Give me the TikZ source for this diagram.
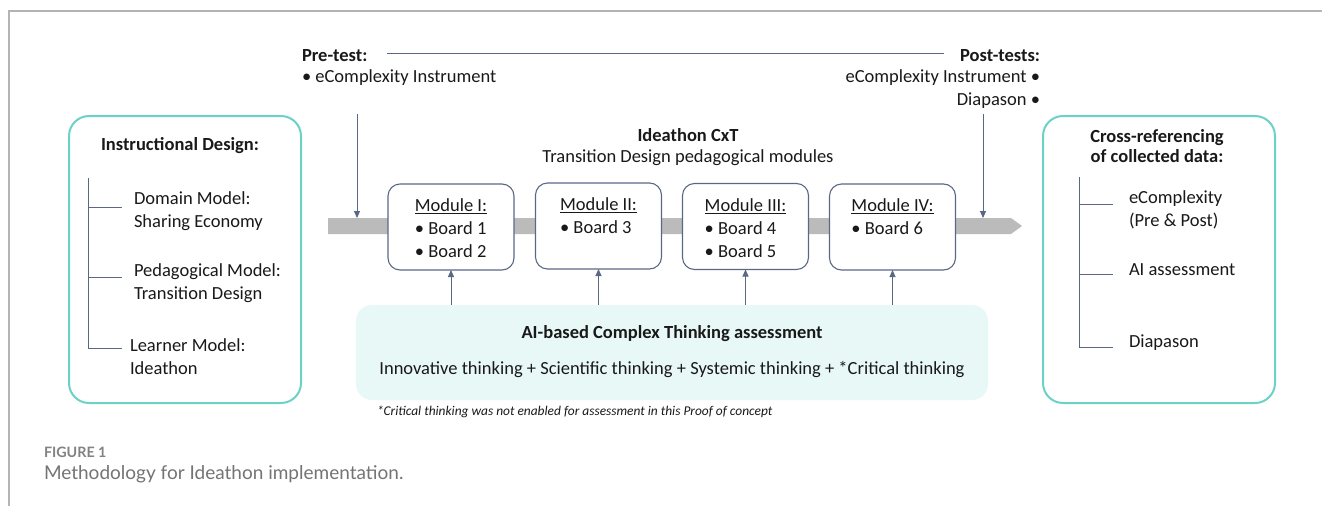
\documentclass[tikz,border=0pt]{standalone}
\usepackage{fontspec}
\setmainfont{Carlito}
\newfontfamily\capfont{Lato}
\usetikzlibrary{arrows.meta,calc}

\definecolor{framegray}{HTML}{B4B4B4}
\definecolor{boxteal}{HTML}{6CD2C8}
\definecolor{slateline}{HTML}{5A6886}
\definecolor{barray}{HTML}{BBBBBB}
\definecolor{aifill}{HTML}{E8F8F7}
\definecolor{captext}{HTML}{747474}

\begin{document}
\begin{tikzpicture}[x=1pt,y=-1pt,
  every node/.style={inner sep=0pt, outer sep=0pt, text=black!90},
  txt/.style={font=\fontsize{18.5}{23}\selectfont},
  bold/.style={font=\fontsize{18.5}{20}\selectfont\bfseries},
  tealbox/.style={draw=boxteal, line width=2pt, rounded corners=20pt, minimum width=232pt, minimum height=287pt},
  modbox/.style={draw=slateline, line width=1.1pt, fill=white, rounded corners=12pt, minimum width=126pt, minimum height=86pt},
  modtxt/.style={font=\fontsize{18.5}{23}\selectfont, align=left},
  treeline/.style={draw=slateline, line width=1pt},
  arr/.style={draw=slateline, line width=1pt, -{Triangle[length=7pt,width=6pt]}},
]
\useasboundingbox (0,0) rectangle (1322,506);
\fill[white] (0,0) rectangle (1322,506);

% outer frame
\draw[framegray, line width=1.6pt] (9,506) -- (9,11) -- (1322,11);

% ---- Instructional design panel
\node[tealbox] (inst) at (185,259.5) {};
\node[bold] (insttitle) at (180,146) {Instructional Design:};
\node[txt, align=left, anchor=west] (dom) at (134,211.5) {Domain Model:\\Sharing Economy};
\node[txt, align=left, anchor=west] (ped) at (134,283.5) {Pedagogical Model:\\Transition Design};
\node[txt, align=left, anchor=west] (lrn) at (130,357) {Learner Model:\\Ideathon};
\coordinate (itop) at (88,178);
\draw[treeline] (itop) -- (88,348) -- (122,348);
\draw[treeline] (88,207) -- (122,207);
\draw[treeline] (88,277) -- (122,277);

% ---- Cross-referencing panel
\node[tealbox] (cross) at (1159,259.5) {};
\node[bold, align=center] (crosstitle) at (1157,146) {Cross-referencing\\of collected data:};
\node[txt, align=left, anchor=west] (ecx) at (1129,209.5) {eComplexity\\(Pre \& Post)};
\node[txt, anchor=west] (aia) at (1129,270) {AI assessment};
\node[txt, anchor=west] (dia) at (1129,343) {Diapason};
\coordinate (ctop) at (1079,177);
\draw[treeline] (ctop) -- (1079,347) -- (1113,347);
\draw[treeline] (1079,204) -- (1113,204);
\draw[treeline] (1079,274) -- (1113,274);

% ---- tests
\node[bold, anchor=west] (pre) at (302,56) {Pre-test:};
\node[txt, anchor=west] (preitem) at (302,78) {• eComplexity Instrument};
\node[bold, anchor=east] (post) at (1040,56) {Post-tests:};
\node[txt, anchor=east] (postitem) at (1040,78) {eComplexity Instrument •};
\node[txt, anchor=east] (postdia) at (1040,101) {Diapason •};
\draw[slateline, line width=1pt] ([xshift=20pt]pre.east |- 0,53) -- ([xshift=-16pt]post.west |- 0,53);

% ---- process bar
\fill[barray] (328,218) -- (1011,218) -- (1022,226) -- (1011,234) -- (328,234) -- cycle;
\coordinate (barin) at (357,218);
\coordinate (barout) at (983,218);
\draw[arr] (357,114) -- (barin);
\draw[arr] (983,114) -- (barout);

\node[bold] (ideathon) at (688,135) {Ideathon CxT};
\node[txt] (tdmod) at (688,158) {Transition Design pedagogical modules};

% ---- modules
\node[modbox] (m1) at (451,227) {};
\node[modbox] (m2) at (598.5,226) {};
\node[modbox] (m3) at (745.5,226.5) {};
\node[modbox] (m4) at (892.5,227) {};
\node[modtxt, anchor=north] at ($(m1.north)+(0,15)$) {\underline{Module I:}\\• Board 1\\• Board 2};
\node[modtxt, anchor=north] at ($(m2.north)+(0,15)$) {\underline{Module II:}\\• Board 3};
\node[modtxt, anchor=north] at ($(m3.north)+(0,15)$) {\underline{Module III:}\\• Board 4\\• Board 5};
\node[modtxt, anchor=north] at ($(m4.north)+(0,15)$) {\underline{Module IV:}\\• Board 6};

% ---- AI assessment block
\node[fill=aifill, rounded corners=16pt, minimum width=632pt, minimum height=95pt] (ai) at (672,352.5) {};
\node[bold] (aititle) at (672,334) {AI-based Complex Thinking assessment};
\node[txt] (aiparts) at (672,370) {Innovative thinking + Scientific thinking + Systemic thinking + *Critical thinking};
\node[font=\fontsize{13.4}{15}\selectfont\itshape, anchor=west] (foot) at (377,412) {*Critical thinking was not enabled for assessment in this Proof of concept};
\foreach \m in {m1,m2,m3,m4}
  \draw[arr] (ai.north -| \m.south) -- (\m.south);

% ---- caption
\node[anchor=west, font=\capfont\fontsize{14.3}{16}\selectfont\bfseries, text=captext!90] (figlabel) at (44,452) {FIGURE 1};
\node[anchor=west, font=\capfont\fontsize{19}{22}\selectfont, text=captext] (figcap) at (44,474) {Methodology for Ideathon implementation.};
\end{tikzpicture}
\end{document}
